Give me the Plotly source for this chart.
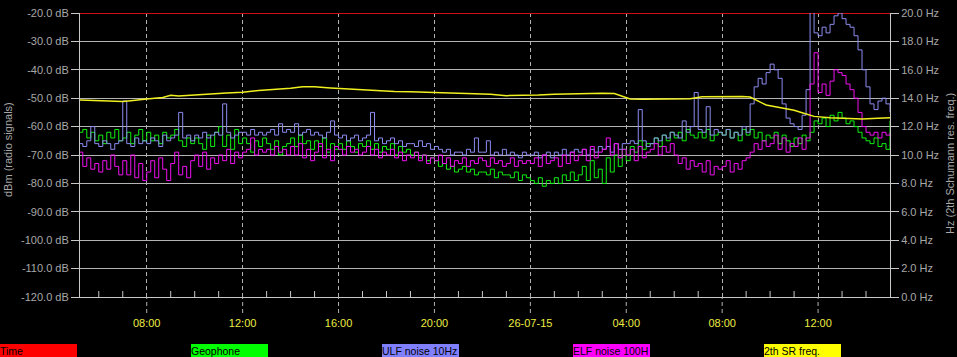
import plotly.graph_objects as go
import pandas as pd

# ---------------- data ----------------
# 10-minute samples from 2015-07-25 05:00 to 2015-07-26 15:00
sample_times = pd.date_range("2015-07-25 05:00", "2015-07-26 15:00", freq="10min")

geophone_db = [
    -63, -62, -61, -64, -62, -65,   # 05h
    -63, -66, -62, -64, -61, -65,   # 06h
    -64, -62, -66, -63, -61, -65,   # 07h
    -62, -65, -63, -66, -62, -64,   # 08h
    -63, -61, -65, -67, -64, -66,   # 09h
    -64, -66, -68, -63, -67, -62,   # 10h
    -60, -67, -63, -68, -61, -66,   # 11h
    -64, -66, -69, -65, -67, -64,   # 12h
    -66, -68, -65, -70, -67, -66,   # 13h
    -64, -67, -63, -66, -65, -68,   # 14h
    -65, -67, -64, -69, -66, -68,   # 15h
    -66, -68, -65, -67, -69, -66,   # 16h
    -67, -65, -68, -66, -69, -67,   # 17h
    -68, -66, -70, -67, -69, -68,   # 18h
    -70, -69, -71, -70, -72, -71,   # 19h
    -72, -74, -73, -75, -74, -76,   # 20h
    -75, -74, -76, -75, -77, -76,   # 21h
    -76, -77, -75, -78, -76, -77,   # 22h
    -77, -78, -76, -79, -77, -78,   # 23h
    -79, -80, -78, -81, -79, -80,   # 00h
    -78, -80, -77, -79, -76, -79,   # 01h
    -77, -74, -79, -72, -78, -75,   # 02h
    -80, -71, -76, -70, -74, -68,   # 03h
    -72, -67, -69, -65, -68, -66,   # 04h
    -66, -64, -67, -63, -65, -62,   # 05h
    -64, -62, -65, -61, -63, -64,   # 06h
    -62, -64, -61, -65, -63, -62,   # 07h
    -63, -61, -64, -62, -65, -61,   # 08h
    -63, -61, -64, -62, -65, -63,   # 09h
    -64, -62, -66, -63, -65, -67,   # 10h
    -64, -66, -63, -65, -62, -58,   # 11h
    -59, -57, -60, -56, -58, -55,   # 12h
    -57, -59, -58, -60, -62, -64,   # 13h
    -65, -66, -64, -67, -66, -68,   # 14h
    -58,                            # 15h
]

ulf_noise_db = [
    -66, -66, -67, -65, -60, -66,
    -67, -65, -66, -68, -66, -65,
    -51, -66, -67, -64, -66, -65,
    -66, -64, -65, -67, -63, -65,
    -64, -63, -55, -64, -63, -65,
    -63, -64, -62, -64, -63, -62,
    -63, -52, -62, -64, -63, -62,
    -62, -63, -61, -63, -62, -63,
    -62, -61, -63, -59, -62, -61,
    -62, -59, -63, -62, -61, -63,
    -62, -63, -64, -62, -58, -63,
    -64, -63, -65, -64, -63, -65,
    -64, -63, -55, -65, -64, -66,
    -65, -64, -66, -65, -67, -66,
    -66, -67, -65, -67, -66, -68,
    -67, -68, -69, -68, -70, -69,
    -69, -70, -68, -69, -64, -69,
    -69, -65, -70, -69, -70, -68,
    -70, -69, -70, -71, -69, -70,
    -70, -69, -71, -70, -69, -71,
    -69, -70, -68, -70, -69, -68,
    -69, -68, -70, -68, -69, -67,
    -68, -67, -69, -66, -68, -66,
    -66, -65, -66, -54, -65, -67,
    -66, -64, -65, -63, -64, -62,
    -63, -64, -58, -62, -60, -48,
    -61, -62, -53, -63, -61, -62,
    -63, -61, -64, -62, -63, -60,
    -62, -52, -46, -43, -45, -41,
    -38, -40, -43, -52, -57, -59,
    -60, -61, -56, -47, -19, -27,
    -28, -25, -27, -24, -21, -20,
    -22, -24, -25, -28, -33, -40,
    -46, -52, -54, -51, -50, -52,
    -55,
]

elf_noise_db = [
    -70, -69, -74, -71, -75, -73,
    -76, -72, -75, -70, -74, -77,
    -72, -77, -70, -78, -73, -79,
    -76, -72, -78, -71, -75, -79,
    -73, -69, -77, -74, -78, -72,
    -70, -74, -69, -75, -71, -73,
    -70, -72, -68, -73, -69, -71,
    -69, -68, -64, -70, -68, -69,
    -68, -70, -67, -69, -68, -70,
    -67, -70, -66, -71, -68, -72,
    -69, -66, -71, -68, -72, -67,
    -68, -70, -67, -69, -68, -70,
    -69, -67, -70, -68, -71, -69,
    -70, -68, -71, -69, -72, -70,
    -71, -69, -72, -70, -73, -71,
    -72, -70, -73, -71, -74, -72,
    -73, -71, -74, -72, -73, -71,
    -72, -74, -71, -73, -72, -74,
    -73, -71, -74, -72, -73, -72,
    -73, -71, -74, -70, -73, -72,
    -71, -74, -70, -73, -69, -72,
    -70, -68, -72, -67, -71, -69,
    -68, -64, -70, -66, -71, -68,
    -70, -68, -72, -67, -71, -69,
    -68, -66, -70, -67, -69, -66,
    -70, -73, -71, -75, -72, -74,
    -73, -76, -72, -77, -74, -75,
    -74, -72, -76, -73, -75, -72,
    -71, -69, -66, -68, -65, -67,
    -66, -63, -68, -64, -69, -66,
    -67, -64, -68, -64, -45, -34,
    -48, -45, -49, -44, -40, -41,
    -42, -45, -47, -50, -55, -60,
    -62, -63, -62, -64, -62, -63,
    -62,
]

sr_times = [
    "2015-07-25 05:10", "2015-07-25 05:40", "2015-07-25 06:10", "2015-07-25 06:40",
    "2015-07-25 07:00", "2015-07-25 07:20", "2015-07-25 07:40", "2015-07-25 08:00",
    "2015-07-25 08:40", "2015-07-25 09:00", "2015-07-25 09:20", "2015-07-25 09:40",
    "2015-07-25 10:00", "2015-07-25 10:40", "2015-07-25 11:20", "2015-07-25 12:00",
    "2015-07-25 12:40", "2015-07-25 13:20", "2015-07-25 14:00", "2015-07-25 14:30",
    "2015-07-25 15:00", "2015-07-25 15:40", "2015-07-25 16:20", "2015-07-25 17:00",
    "2015-07-25 17:40", "2015-07-25 18:20", "2015-07-25 19:00", "2015-07-25 19:40",
    "2015-07-25 20:20", "2015-07-25 21:00", "2015-07-25 21:40", "2015-07-25 22:20",
    "2015-07-25 23:00", "2015-07-25 23:40", "2015-07-26 00:20", "2015-07-26 01:00",
    "2015-07-26 01:40", "2015-07-26 02:20", "2015-07-26 03:00", "2015-07-26 03:30",
    "2015-07-26 03:50", "2015-07-26 04:10", "2015-07-26 04:40", "2015-07-26 05:20",
    "2015-07-26 06:00", "2015-07-26 06:40", "2015-07-26 07:10", "2015-07-26 07:40",
    "2015-07-26 08:20", "2015-07-26 08:50", "2015-07-26 09:10", "2015-07-26 09:30",
    "2015-07-26 09:50", "2015-07-26 10:30", "2015-07-26 11:00", "2015-07-26 11:20",
    "2015-07-26 11:50", "2015-07-26 12:30", "2015-07-26 13:20", "2015-07-26 13:50",
    "2015-07-26 14:30", "2015-07-26 15:00",
]
sr_freq_hz = [
    13.87, 13.85, 13.83, 13.78,
    13.76, 13.82, 13.90, 13.95,
    14.05, 14.20, 14.15, 14.20,
    14.25, 14.30, 14.36, 14.42,
    14.55, 14.62, 14.70, 14.80,
    14.80, 14.72, 14.65, 14.58,
    14.52, 14.48, 14.45, 14.42,
    14.38, 14.36, 14.33, 14.28,
    14.18, 14.18, 14.22, 14.27,
    14.30, 14.33, 14.35, 14.33,
    14.15, 13.95, 13.92, 13.92,
    13.94, 13.96, 14.10, 14.12,
    14.13, 14.12, 14.08, 13.80,
    13.52, 13.31, 13.15, 12.98,
    12.72, 12.62, 12.57, 12.54,
    12.58, 12.62,
]

time_line_times = ["2015-07-25 05:00", "2015-07-26 15:00"]
time_line_db = [-20.0, -20.0]

x_range = ["2015-07-25 05:13", "2015-07-26 15:00"]
x_tick_times = ["2015-07-25 08:00", "2015-07-25 12:00", "2015-07-25 16:00",
                "2015-07-25 20:00", "2015-07-26 00:00", "2015-07-26 04:00",
                "2015-07-26 08:00", "2015-07-26 12:00"]
x_tick_labels = ["08:00", "12:00", "16:00", "20:00", "26-07-15", "04:00", "08:00", "12:00"]
x_minor_times = [t.strftime("%Y-%m-%d %H:%M")
                 for t in pd.date_range("2015-07-25 06:00", "2015-07-26 14:00", freq="1h")]

db_ticks = [-120, -110, -100, -90, -80, -70, -60, -50, -40, -30, -20]
hz_ticks = [0, 2, 4, 6, 8, 10, 12, 14, 16, 18, 20]

legend_names = ["Time", "Geophone", "ULF noise 10Hz", "ELF noise 100H", "2th SR freq."]
legend_colors = ["#FF0000", "#00FF00", "#8080FF", "#FF00FF", "#FFFF00"]

assert len(geophone_db) == len(sample_times) == len(ulf_noise_db) == len(elf_noise_db)
assert len(sr_times) == len(sr_freq_hz)

# ---------------- figure ----------------
W, H = 957, 357
L, R, T, B = 80, 67, 13, 60
plot_w = W - L - R
plot_h = H - T - B

FONT = "Liberation Sans, Arial, sans-serif"
GRAY = "#A8A8A8"
LINE_GRAY = "#C8C8C8"

fig = go.Figure()
fig.add_trace(go.Scatter(x=time_line_times, y=time_line_db, mode="lines",
                         line=dict(color="#D01010", width=2), name="Time"))
fig.add_trace(go.Scatter(x=sample_times, y=geophone_db, mode="lines", line_shape="hv",
                         line=dict(color="#10F010", width=1), name="Geophone"))
fig.add_trace(go.Scatter(x=sample_times, y=ulf_noise_db, mode="lines", line_shape="hv",
                         line=dict(color="#8C8CF0", width=1), name="ULF noise 10Hz"))
fig.add_trace(go.Scatter(x=sample_times, y=elf_noise_db, mode="lines", line_shape="hv",
                         line=dict(color="#F010F0", width=1), name="ELF noise 100Hz"))
fig.add_trace(go.Scatter(x=sr_times, y=sr_freq_hz, mode="lines", yaxis="y2",
                         line=dict(color="#F0F020", width=1.5), name="2th SR freq."))

shapes = []
# dashed continuation of the major vertical gridlines below the axis
for t in x_tick_times:
    shapes.append(dict(type="line", xref="x", yref="paper", x0=t, x1=t,
                       y0=-16 / plot_h, y1=0,
                       line=dict(color="#B0B0B0", width=1, dash="4px,3px")))
# hourly minor ticks pointing up from the time axis
for t in x_minor_times:
    if t in x_tick_times:
        continue
    shapes.append(dict(type="line", xref="x", yref="paper", x0=t, x1=t,
                       y0=0, y1=6 / plot_h, layer="above",
                       line=dict(color=LINE_GRAY, width=1)))

annotations = [
    dict(text="dBm (radio signals)", xref="paper", yref="paper",
         x=(8 - L) / plot_w, y=(H - B - 150) / plot_h, textangle=-90,
         showarrow=False, xanchor="center", yanchor="middle",
         font=dict(family=FONT, size=11, color=GRAY)),
    dict(text="Hz (2th Schumann res. freq.)", xref="paper", yref="paper",
         x=(950 - L) / plot_w, y=(H - B - 164) / plot_h, textangle=-90,
         showarrow=False, xanchor="center", yanchor="middle",
         font=dict(family=FONT, size=11, color=GRAY)),
]
for i, (name, col) in enumerate(zip(legend_names, legend_colors)):
    left_px = i * 191
    annotations.append(dict(
        text=name, xref="paper", yref="paper",
        x=(left_px - L) / plot_w, y=(H - B - 344) / plot_h,
        xanchor="left", yanchor="top", showarrow=False,
        width=77, height=14, align="left", valign="middle",
        bgcolor=col, borderpad=0, borderwidth=0,
        font=dict(family=FONT, size=10.5, color="black")))

fig.update_layout(
    width=W, height=H,
    margin=dict(l=L, r=R, t=T, b=B, pad=0, autoexpand=False),
    paper_bgcolor="black", plot_bgcolor="black",
    showlegend=False,
    font=dict(family=FONT, size=11, color=GRAY),
    xaxis=dict(
        type="date", range=x_range, automargin=False,
        tickmode="array", tickvals=x_tick_times, ticktext=x_tick_labels,
        tickfont=dict(family=FONT, size=11, color="#ECEC40"),
        ticks="outside", ticklen=16, tickcolor="rgba(0,0,0,0)",
        showgrid=True, gridcolor="#B0B0B0", gridwidth=1, griddash="4px,3px",
        showline=True, linecolor=LINE_GRAY, linewidth=1, zeroline=False,
    ),
    yaxis=dict(
        range=[-120, -20], tickmode="array", tickvals=db_ticks, automargin=False,
        ticktext=[f"{v:.1f} dB" for v in db_ticks],
        ticks="outside", ticklen=8, tickcolor=LINE_GRAY,
        showline=True, linecolor=LINE_GRAY, linewidth=1,
        showgrid=True, gridcolor="#B4B4B4", gridwidth=1, zeroline=False,
        tickfont=dict(family=FONT, size=11, color=GRAY),
    ),
    yaxis2=dict(
        range=[0, 20], overlaying="y", side="right", tickmode="array", automargin=False,
        tickvals=hz_ticks, ticktext=[f"{v:.1f} Hz" for v in hz_ticks],
        ticks="outside", ticklen=8, tickcolor=LINE_GRAY,
        showline=True, linecolor=LINE_GRAY, linewidth=1,
        showgrid=False, zeroline=False,
        tickfont=dict(family=FONT, size=11, color=GRAY),
    ),
    shapes=shapes,
    annotations=annotations,
)

fig.write_html("out.html")
